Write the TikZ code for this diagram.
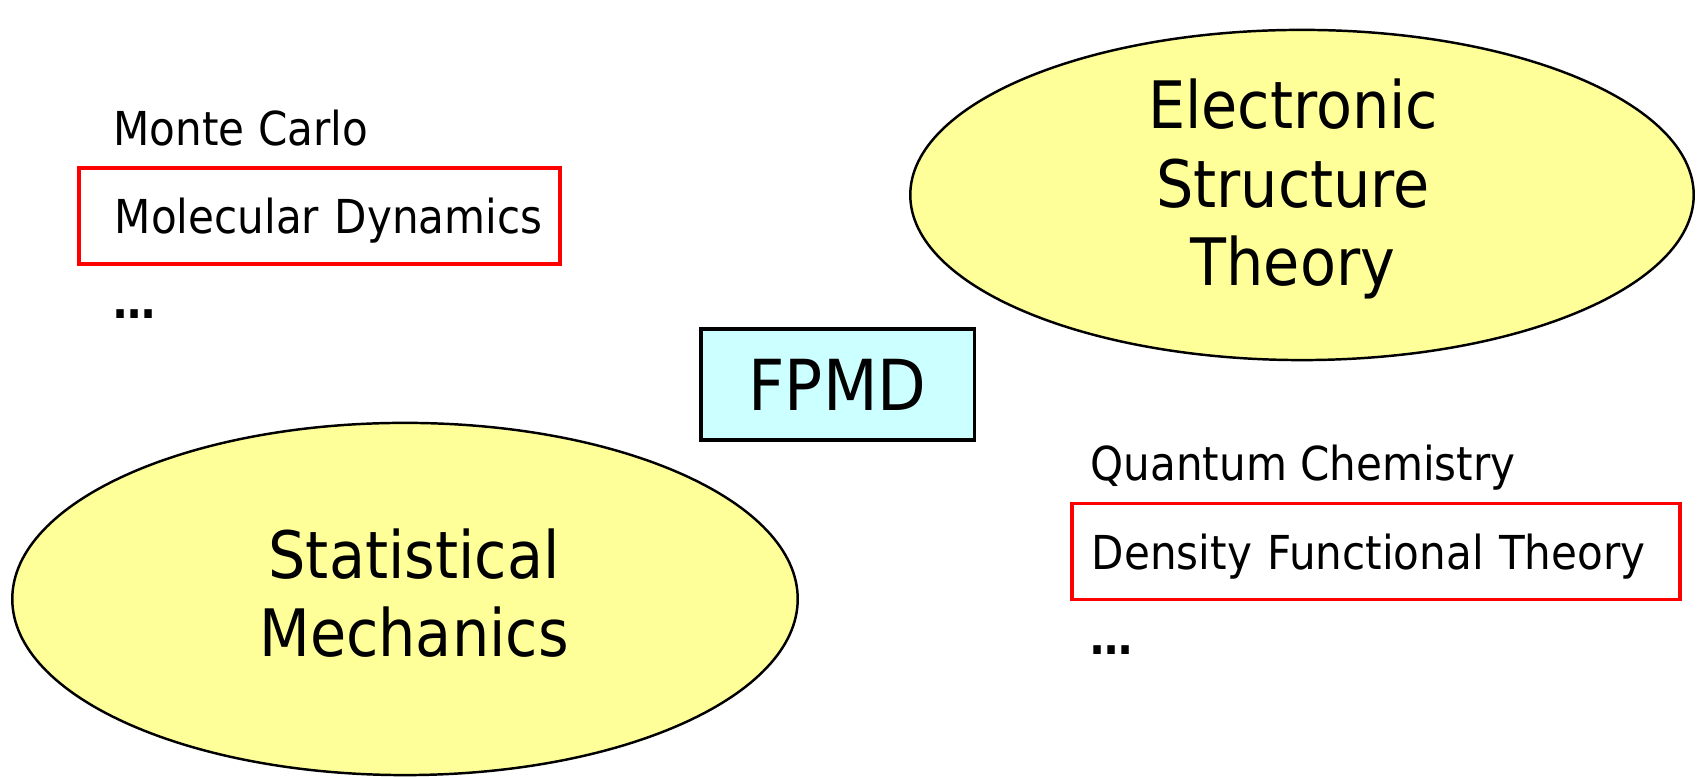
\documentclass[tikz,border=0pt]{standalone}
\usepackage{fontspec}
\setmainfont{DejaVu Sans Condensed}
\usepackage{xcolor}
\usepackage{tikz}
\usetikzlibrary{shapes.geometric,positioning}

\definecolor{blobfill}{HTML}{FFFF99}
\definecolor{corefill}{HTML}{CCFFFF}
\definecolor{markred}{HTML}{FF0000}

\begin{document}
\begin{tikzpicture}[
    x=0.01cm, y=-0.01cm,
    blob/.style={
        ellipse,
        draw=black,
        fill=blobfill,
        line width=0.7pt,
        inner sep=0pt
    },
    blobtext/.style={
        align=center,
        inner sep=0pt,
        font=\fontsize{18.6}{22.2}\selectfont
    },
    core/.style={
        draw=black,
        fill=corefill,
        line width=0.9pt,
        minimum width=2.73cm,
        minimum height=1.11cm,
        text depth=0pt,
        font=\fontsize{20}{24}\selectfont
    },
    item/.style={
        anchor=base west,
        inner sep=0pt,
        font=\fontsize{13.3}{16}\selectfont
    },
    hilite/.style={
        draw=markred,
        line width=1.1pt,
        anchor=west,
        align=left,
        minimum height=0.96cm,
        inner ysep=0pt,
        text depth=0pt,
        font=\fontsize{13.3}{16}\selectfont
    }
]
\useasboundingbox (0,0) rectangle (1702,777);

%-----------------------------------
% Centre: FPMD
%-----------------------------------
\node[core] (fpmd) at (837.5,384.5) {FPMD};

%-----------------------------------
% Upper right: electronic structure
%-----------------------------------
\node[blob, minimum width=7.83cm, minimum height=3.30cm] (est) at (1302,195) {};
\node[blobtext] (esttext) at ([xshift=-0.09cm,yshift=0.06cm]est.center)
    {Electronic\\Structure\\Theory};

\node[item] (qc) at (1090,481) {Quantum Chemistry};
\node[hilite, inner xsep=0.20cm, text width=5.68cm] (dft) at (1070,551.5)
    {\mbox{Density Functional Theory}};
\node[item] (qcmore) at (1090,655) {\textbf{…}};

%-----------------------------------
% Lower left: statistical mechanics
%-----------------------------------
\node[blob, minimum width=7.85cm, minimum height=3.52cm] (sm) at (405,599) {};
\node[blobtext] (smtext) at ([xshift=0.09cm,yshift=0.06cm]sm.center)
    {Statistical\\Mechanics};

\node[item] (mc) at (113,146) {Monte Carlo};
\node[hilite, inner xsep=0.36cm, text width=4.09cm] (md) at (77,216)
    {\mbox{Molecular Dynamics}};
\node[item] (mdmore) at (113,319) {\textbf{…}};

\end{tikzpicture}
\end{document}
